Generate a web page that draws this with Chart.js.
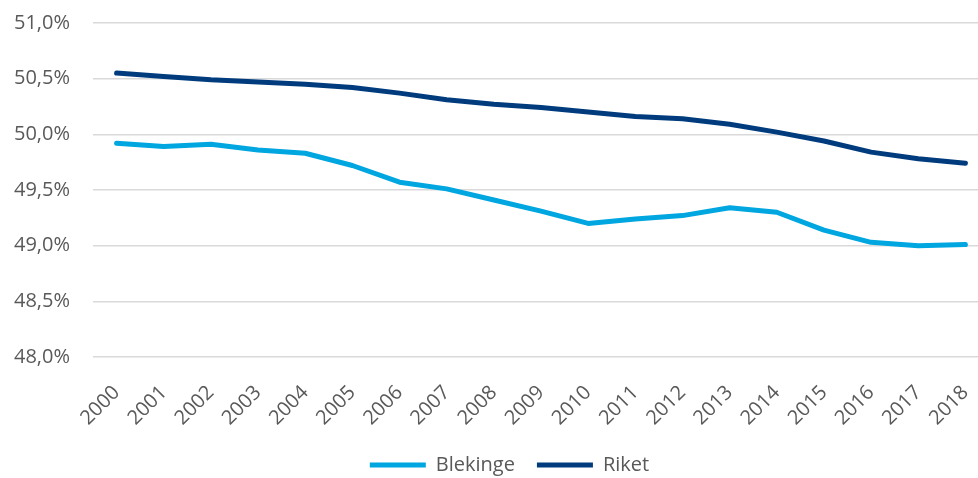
<!DOCTYPE html>
<html>
<head>
<meta charset="utf-8">
<script src="https://cdn.jsdelivr.net/npm/chart.js@4"></script>
<style>
  html, body { margin: 0; padding: 0; background: #fff; overflow: hidden; }
  #wrap { width: 989px; height: 485px; }
</style>
</head>
<body>
<div id="wrap"><canvas id="graph"></canvas></div>
<script>
// data
var years = ['2000','2001','2002','2003','2004','2005','2006','2007','2008','2009',
             '2010','2011','2012','2013','2014','2015','2016','2017','2018'];
var blekinge = [49.92, 49.89, 49.91, 49.86, 49.83, 49.72, 49.57, 49.51, 49.41, 49.31,
                49.20, 49.24, 49.27, 49.34, 49.30, 49.14, 49.03, 49.00, 49.01];
var riket = [50.55, 50.52, 50.49, 50.47, 50.45, 50.42, 50.37, 50.31, 50.27, 50.24,
             50.20, 50.16, 50.14, 50.09, 50.02, 49.94, 49.84, 49.78, 49.74];

var textColor = '#595959';
var fontFam = "'Open Sans', sans-serif";

// legend is centred a bit right of the canvas centre in the original
var shiftLegend = {
	id: 'shiftLegend',
	afterLayout: function(chart) {
		chart.legend.left += 15;
		chart.legend.right += 15;
	}
};

var ctx = document.getElementById('graph').getContext('2d');
var myChart = new Chart(ctx, {
	type: 'line',
	data: {
		labels: years,
		datasets: [
			{ label: 'Blekinge', data: blekinge, borderColor: '#00A6E0', backgroundColor: '#00A6E0' },
			{ label: 'Riket', data: riket, borderColor: '#003C7D', backgroundColor: '#003C7D' }
		].map(function(ds) {
			ds.borderWidth = 5;
			ds.pointRadius = 0;
			ds.tension = 0;
			ds.borderCapStyle = 'round';
			ds.borderJoinStyle = 'round';
			return ds;
		})
	},
	plugins: [shiftLegend],
	options: {
		animation: false,
		responsive: true,
		maintainAspectRatio: false,
		layout: { padding: { top: 23, right: 0, left: 0, bottom: 0 } },
		scales: {
			y: {
				min: 48,
				max: 51,
				border: { display: false },
				// invisible tick marks give the gap between labels and grid
				grid: { color: '#D9D9D9', lineWidth: 1.5, drawTicks: true, tickLength: 23, tickColor: 'transparent' },
				ticks: {
					stepSize: 0.5,
					padding: 0,
					color: textColor,
					font: { size: 20, family: fontFam },
					callback: function(value) {
						return value.toFixed(1).replace('.', ',') + '%';
					}
				},
				afterFit: function(axis) { axis.width = 93; }
			},
			x: {
				offset: true,
				border: { display: false },
				grid: { drawOnChartArea: false, drawTicks: true, tickLength: 24, tickColor: 'transparent', color: 'transparent' },
				ticks: {
					minRotation: 45,
					maxRotation: 45,
					autoSkip: false,
					padding: 0,
					color: textColor,
					font: { size: 20, family: fontFam }
				},
				afterFit: function(axis) { axis.height = 76; }
			}
		},
		plugins: {
			tooltip: { enabled: false },
			legend: {
				position: 'bottom',
				labels: {
					usePointStyle: true,
					pointStyle: 'line',
					pointStyleWidth: 56,
					boxHeight: 6,
					padding: 22,
					color: textColor,
					font: { size: 20, family: fontFam }
				}
			}
		}
	}
});
</script>
</body>
</html>
